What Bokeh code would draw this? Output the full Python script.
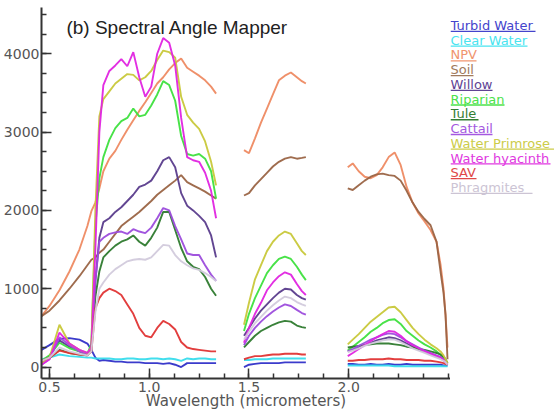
from bokeh.plotting import figure
from bokeh.layouts import row
from bokeh.models import FixedTicker, PrintfTickFormatter, Label, Range1d
from bokeh.embed import file_html
from bokeh.resources import INLINE
from bokeh.core.properties import value

# Wavelengths (micrometers) of the three atmospheric windows
wl_vnir = [0.46, 0.50, 0.55, 0.60, 0.65, 0.69, 0.71, 0.73, 0.75, 0.77, 0.80, 0.83, 0.86, 0.89,
           0.92, 0.95, 0.98, 1.01, 1.04, 1.07, 1.10, 1.13, 1.16, 1.19, 1.22, 1.25, 1.28, 1.31, 1.335]
wl_swir1 = [1.475, 1.50, 1.53, 1.56, 1.59, 1.62, 1.65, 1.68, 1.71, 1.74, 1.765, 1.785]
wl_swir2 = [1.995, 2.02, 2.05, 2.08, 2.11, 2.14, 2.17, 2.20, 2.23, 2.26, 2.29, 2.32, 2.35, 2.38,
            2.41, 2.44, 2.46, 2.475, 2.485, 2.495]

# Endmember reflectance (x10000), one list per window
turbid_water = (
    [220, 280, 360, 370, 350, 300, 220, 120, 80, 90, 80, 70, 70, 60, 60, 60, 50, 50, 50, 40, 50, 30, 0, 50, 50, 50, 50, 50, 50],
    [0, 30, 40, 50, 50, 50, 50, 60, 60, 60, 60, 60],
    [40, 40, 30, 30, 40, 30, 30, 40, 30, 30, 40, 30, 30, 30, 30, 30, 30, 20, 20, 20])
clear_water = (
    [100, 120, 160, 140, 130, 120, 120, 110, 110, 110, 110, 100, 100, 110, 110, 100, 100, 110, 110, 100, 110, 100, 80, 110, 100, 110, 110, 100, 100],
    [90, 90, 100, 100, 100, 110, 110, 110, 110, 110, 110, 110],
    [20, 20, 20, 20, 20, 20, 20, 20, 10, 10, 10, 10, 10, 10, 10, 10, 10, 10, 10, 10])
npv = (
    [650, 780, 980, 1220, 1500, 1800, 1990, 2100, 2280, 2500, 2660, 2760, 2900, 3030, 3150, 3270, 3380, 3500, 3620, 3700, 3800, 3880, 3940, 3820, 3770, 3720, 3660, 3580, 3490],
    [2770, 2730, 2920, 3120, 3300, 3480, 3660, 3720, 3760, 3700, 3650, 3620],
    [2550, 2600, 2500, 2430, 2410, 2450, 2550, 2680, 2740, 2580, 2300, 2100, 1960, 1860, 1750, 1600, 1310, 1000, 670, 250])
soil = (
    [650, 720, 850, 1000, 1160, 1300, 1370, 1400, 1460, 1500, 1600, 1700, 1800, 1860, 1920, 1980, 2050, 2120, 2200, 2260, 2320, 2380, 2450, 2360, 2320, 2280, 2240, 2190, 2150],
    [2190, 2220, 2320, 2400, 2480, 2560, 2620, 2660, 2680, 2660, 2670, 2680],
    [2280, 2260, 2320, 2380, 2430, 2460, 2470, 2450, 2440, 2380, 2250, 2100, 1980, 1890, 1810, 1600, 1220, 950, 670, 100])
willow = (
    [50, 140, 340, 260, 200, 160, 200, 1100, 1650, 1850, 1900, 1980, 2040, 2120, 2200, 2300, 2330, 2380, 2500, 2640, 2680, 2550, 2220, 2060, 2000, 1930, 1850, 1680, 1400],
    [400, 500, 620, 720, 800, 880, 950, 1000, 990, 920, 880, 860],
    [200, 220, 250, 280, 310, 340, 360, 380, 370, 340, 300, 260, 220, 190, 160, 130, 110, 90, 60, 30])
riparian = (
    [80, 150, 310, 240, 200, 170, 300, 1800, 2410, 2680, 2900, 3050, 3140, 3180, 3300, 3200, 3220, 3340, 3480, 3650, 3600, 3400, 2950, 2720, 2700, 2720, 2660, 2500, 2150],
    [460, 680, 880, 1040, 1200, 1300, 1380, 1410, 1380, 1280, 1180, 1110],
    [210, 260, 320, 380, 450, 500, 560, 600, 610, 550, 460, 400, 340, 290, 250, 200, 160, 120, 80, 40])
tule = (
    [80, 120, 220, 180, 160, 150, 250, 900, 1220, 1400, 1480, 1550, 1600, 1630, 1680, 1600, 1550, 1650, 1780, 1980, 1980, 1750, 1520, 1350, 1280, 1250, 1150, 1000, 910],
    [250, 320, 400, 460, 500, 540, 570, 590, 580, 530, 510, 500],
    [250, 260, 270, 280, 290, 300, 300, 300, 290, 280, 260, 250, 230, 220, 200, 180, 160, 130, 100, 50])
cattail = (
    [30, 100, 380, 280, 200, 160, 250, 1100, 1600, 1650, 1700, 1720, 1730, 1700, 1760, 1730, 1710, 1780, 1900, 2030, 2000, 1800, 1630, 1450, 1430, 1430, 1300, 1180, 1100],
    [280, 400, 500, 580, 650, 710, 760, 800, 780, 730, 690, 670],
    [200, 230, 270, 310, 350, 380, 410, 430, 420, 380, 330, 290, 250, 210, 180, 150, 130, 100, 70, 30])
water_primrose = (
    [50, 120, 540, 300, 220, 180, 250, 2000, 3200, 3420, 3520, 3620, 3680, 3740, 3730, 3660, 3700, 3780, 3920, 4040, 4020, 3950, 3450, 3220, 3120, 3040, 2880, 2620, 2320],
    [540, 820, 1120, 1300, 1480, 1600, 1680, 1730, 1700, 1580, 1480, 1430],
    [290, 350, 420, 500, 580, 640, 700, 760, 770, 700, 600, 500, 420, 350, 290, 240, 200, 150, 100, 50])
water_hyacinth = (
    [30, 100, 440, 300, 220, 180, 250, 1500, 3000, 3600, 3780, 3850, 3930, 3840, 4020, 3700, 3450, 3580, 4000, 4200, 4140, 3850, 3180, 2680, 2640, 2620, 2480, 2250, 1900],
    [310, 500, 680, 820, 980, 1080, 1160, 1210, 1180, 1060, 970, 920],
    [140, 180, 230, 280, 330, 380, 420, 460, 450, 400, 330, 280, 240, 200, 170, 140, 120, 90, 60, 30])
sav = (
    [80, 120, 210, 180, 160, 150, 200, 750, 880, 950, 1000, 970, 920, 800, 680, 500, 400, 380, 500, 590, 550, 480, 320, 250, 230, 220, 210, 200, 200],
    [100, 120, 140, 140, 150, 160, 160, 170, 170, 170, 160, 160],
    [80, 80, 90, 90, 100, 100, 100, 110, 100, 100, 90, 90, 90, 80, 80, 70, 60, 50, 40, 30])
phragmites = (
    [80, 120, 250, 200, 170, 150, 200, 700, 1000, 1080, 1180, 1250, 1300, 1350, 1370, 1380, 1370, 1400, 1480, 1560, 1550, 1430, 1350, 1300, 1260, 1240, 1200, 1150, 1100],
    [350, 450, 560, 640, 720, 790, 850, 900, 880, 830, 800, 780],
    [190, 210, 240, 270, 300, 320, 340, 350, 350, 320, 280, 240, 210, 180, 150, 120, 100, 80, 60, 30])

class_names = ["Turbid Water", "Clear Water", "NPV", "Soil", "Willow", "Riparian", "Tule",
               "Cattail", "Water Primrose", "Water hyacinth", "SAV", "Phragmites"]
spectra = [turbid_water, clear_water, npv, soil, willow, riparian, tule,
           cattail, water_primrose, water_hyacinth, sav, phragmites]
line_colors = ["#3030c8", "#38dcec", "#ee8a62", "#9a6444", "#5a3c8c", "#3ee03e", "#2e7a2e",
               "#9c4cdc", "#c8c83a", "#e024e0", "#e03434", "#d2cadc"]
text_colors = ["#4444cc", "#48e4f0", "#f0946e", "#a07a5c", "#604494", "#4ae24a", "#347e34",
               "#a458e0", "#cccc48", "#e038e0", "#e04848", "#ccc4d4"]
# underline lengths (px) for the 13px key text
underline_widths = [85, 77, 26, 23, 42, 54, 28, 42, 114, 100, 26, 82]

p = figure(width=450, height=412, output_backend="svg", toolbar_location=None,
           x_range=Range1d(0.46, 2.51), y_range=Range1d(-146, 4590),
           min_border_left=40, min_border_right=0, min_border_top=7, min_border_bottom=0)
p.outline_line_color = None
p.grid.visible = False
p.background_fill_color = "white"

for spec, col in zip(spectra, line_colors):
    for wl, refl in zip((wl_vnir, wl_swir1, wl_swir2), spec):
        p.line(wl, refl, line_color=col, line_width=1.9, line_alpha=0.95)

for ax in (p.xaxis[0], p.yaxis[0]):
    ax.axis_line_color = "#333333"
    ax.axis_line_width = 2
    ax.major_tick_line_color = "#333333"
    ax.minor_tick_line_color = "#333333"
    ax.major_tick_line_width = 1.5
    ax.minor_tick_line_width = 1.5
    ax.major_tick_in = 10
    ax.major_tick_out = 0
    ax.minor_tick_in = 5
    ax.minor_tick_out = 0
    ax.major_label_text_color = "#555555"
    ax.major_label_text_font = "DejaVu Sans"
    ax.major_label_text_font_size = "14px"

p.xaxis.ticker = FixedTicker(ticks=[0.5, 1.0, 1.5, 2.0],
                             minor_ticks=[0.5 + 0.125 * k for k in range(17)])
p.xaxis.formatter = PrintfTickFormatter(format="%.1f")
p.xaxis.major_label_standoff = 3
p.xaxis.axis_label = "Wavelength (micrometers)"
p.xaxis.axis_label_text_font = "DejaVu Sans"
p.xaxis.axis_label_text_font_style = "normal"
p.xaxis.axis_label_text_font_size = "15px"
p.xaxis.axis_label_text_color = "#555555"
p.xaxis.axis_label_standoff = -3

p.yaxis.ticker = FixedTicker(ticks=[0, 1000, 2000, 3000, 4000],
                             minor_ticks=[250 * k for k in range(19)])
p.yaxis.major_label_standoff = 2

p.add_layout(Label(x=0.585, y=4330, text="(b) Spectral Angle Mapper",
                   text_font="Liberation Sans", text_font_size="19px",
                   text_color="#222222", text_baseline="alphabetic"))

# Class key: coloured, underlined names to the right of the plot
leg = figure(width=104, height=412, output_backend="svg", toolbar_location=None,
             x_range=Range1d(0, 104), y_range=Range1d(412, 0),
             min_border=0)
leg.axis.visible = False
leg.grid.visible = False
leg.outline_line_color = None
key_y = [20 + 16.36 * i for i in range(len(class_names))]
leg.text(x=[0] * len(class_names), y=key_y, text=class_names, text_color=text_colors,
         text_font=value("DejaVu Sans"), text_font_size="13px", text_baseline="middle")
leg.segment(x0=[0] * len(class_names), y0=[y + 6.5 for y in key_y],
            x1=underline_widths, y1=[y + 6.5 for y in key_y],
            line_color=text_colors, line_width=1.3)

layout = row(p, leg, spacing=0)
open("out.html", "w").write(file_html(layout, INLINE))
